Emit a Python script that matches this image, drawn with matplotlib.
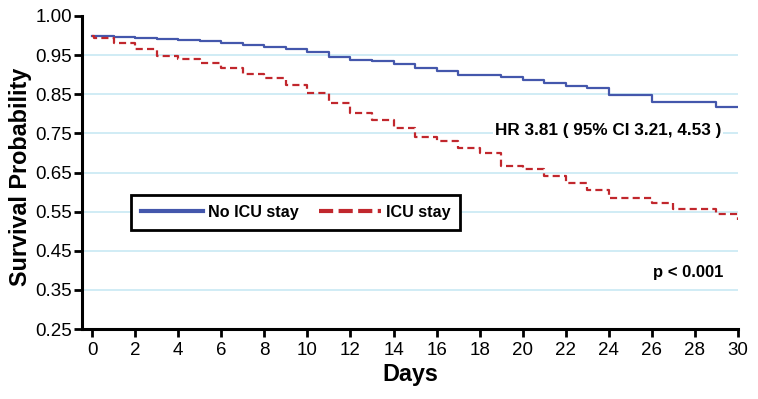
import matplotlib
matplotlib.use('Agg')
import matplotlib.pyplot as plt
from matplotlib.lines import Line2D

plt.rcParams['font.family'] = ['Liberation Sans', 'DejaVu Sans']

# Kaplan-Meier steps, no ICU stay
days_no_icu = [0, 1, 2, 3, 4, 5, 6, 7, 8, 9, 10, 11, 12, 13, 14, 15, 16, 17,
               19, 20, 21, 22, 23, 24, 26, 29, 30]
surv_no_icu = [1.000, 0.997, 0.994, 0.991, 0.988, 0.985, 0.980, 0.975, 0.970,
               0.965, 0.958, 0.944, 0.938, 0.934, 0.927, 0.916, 0.909, 0.899,
               0.894, 0.886, 0.878, 0.872, 0.865, 0.848, 0.831, 0.818, 0.818]

# Kaplan-Meier steps, ICU stay
days_icu = [0, 0.1, 1, 2, 3, 4, 5, 6, 7, 8, 9, 10, 11, 12, 13, 14, 15, 16, 17,
            18, 19, 20, 21, 22, 23, 24, 26, 27, 29, 30]
surv_icu = [1.000, 0.994, 0.981, 0.965, 0.948, 0.941, 0.929, 0.916, 0.902,
            0.891, 0.874, 0.852, 0.828, 0.801, 0.784, 0.764, 0.742, 0.731,
            0.712, 0.699, 0.666, 0.659, 0.641, 0.624, 0.605, 0.586, 0.571,
            0.558, 0.543, 0.528]

x_ticks = list(range(0, 31, 2))
y_ticks = [0.25, 0.35, 0.45, 0.55, 0.65, 0.75, 0.85, 0.95, 1.05]
y_labels = ['0.25', '0.35', '0.45', '0.55', '0.65', '0.75', '0.85', '0.95', '1.00']

blue = '#4457ac'
red = '#c1272d'

fig = plt.figure(figsize=(7.58, 3.99), dpi=100)
ax = fig.add_axes([0.1082, 0.1754, 0.8654, 0.7845])

for y in y_ticks[1:-1]:
    ax.axhline(y, color='#cdeaf4', lw=1.3, zorder=0)

ax.plot(days_no_icu, surv_no_icu, drawstyle='steps-post', color=blue, lw=1.6)
ax.plot(days_icu, surv_icu, drawstyle='steps-post', color=red, lw=1.6,
        dashes=(3.2, 1.9))

ax.set_xlim(-0.47, 30)
ax.set_ylim(0.25, 1.05)
ax.set_xticks(x_ticks)
ax.set_yticks(y_ticks)
ax.set_yticklabels(y_labels)
ax.tick_params(labelsize=13.5, width=2, length=6, colors='black', pad=3)
ax.tick_params(axis='y', pad=1)

for s in ['top', 'right']:
    ax.spines[s].set_visible(False)
for s in ['left', 'bottom']:
    ax.spines[s].set_linewidth(2.2)

ax.set_xlabel('Days', fontsize=16.8, fontweight='bold', labelpad=3)
ax.set_ylabel('Survival Probability', fontsize=16.8, fontweight='bold')
ax.yaxis.set_label_coords(-0.076, 0.486)

ax.text(23.95, 0.757, 'HR 3.81 ( 95% CI 3.21, 4.53 )', ha='center', va='center',
        fontsize=12.3, fontweight='bold',
        bbox=dict(facecolor='white', edgecolor='none', pad=1.5))
ax.text(29.3, 0.394, 'p < 0.001', ha='right', va='center',
        fontsize=12, fontweight='bold')

handles = [Line2D([], [], color=blue, lw=3),
           Line2D([], [], color=red, lw=3, dashes=(3.4, 1.3))]
leg = ax.legend(handles, ['No ICU stay', 'ICU stay'], ncol=2, loc='center',
                bbox_to_anchor=(0.3255, 0.372), fancybox=False, framealpha=1,
                edgecolor='black', handlelength=3.85, handletextpad=0.32,
                columnspacing=1.25, borderpad=0.6,
                prop={'weight': 'bold', 'size': 11.6})
leg.get_frame().set_linewidth(2)

fig.savefig('out.png', dpi=100)
